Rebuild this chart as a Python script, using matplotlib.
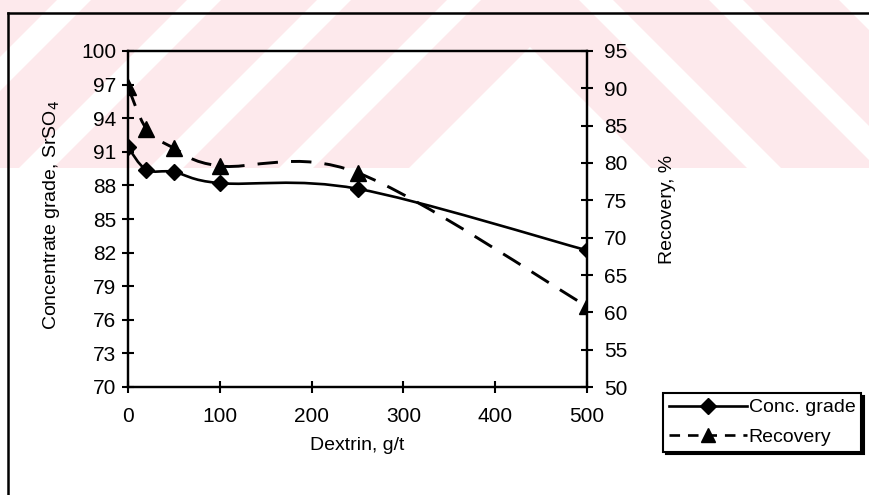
import matplotlib
matplotlib.use("Agg")
import matplotlib.pyplot as plt
from matplotlib.path import Path
from matplotlib.patches import PathPatch, Polygon, Rectangle
from matplotlib.lines import Line2D

# Waarden
dextrin = [0, 20, 50, 100, 250, 500]                   # g/t
grade = [91.4, 89.4, 89.2, 88.2, 87.7, 82.2]            # concentrate grade, SrSO4
recovery = [90.2, 84.6, 82.0, 79.6, 78.7, 60.8]         # recovery, %

grade_ticks = list(range(70, 101, 3))
recovery_ticks = list(range(50, 96, 5))
dextrin_ticks = list(range(0, 501, 100))

W, H = 869, 495
plt.rcParams["font.family"] = ["Liberation Sans", "DejaVu Sans"]
plt.rcParams["font.size"] = 14.5


def fx(px):
    return px / W


def fy(py):
    return 1 - py / H


def smooth_path(xs, ys):
    # Excel-achtige gladde lijn: Bezier met controlepunten op 1/6 van de raaklijn
    n = len(xs)
    verts = [(xs[0], ys[0])]
    codes = [Path.MOVETO]
    for i in range(n - 1):
        x0, y0 = xs[max(i - 1, 0)], ys[max(i - 1, 0)]
        x1, y1 = xs[i], ys[i]
        x2, y2 = xs[i + 1], ys[i + 1]
        x3, y3 = xs[min(i + 2, n - 1)], ys[min(i + 2, n - 1)]
        c1 = (x1 + (x2 - x0) / 6, y1 + (y2 - y0) / 6)
        c2 = (x2 - (x3 - x1) / 6, y2 - (y3 - y1) / 6)
        verts += [c1, c2, (x2, y2)]
        codes += [Path.CURVE4] * 3
    return Path(verts, codes)


fig = plt.figure(figsize=(W / 100, H / 100), dpi=100)
fig.patch.set_facecolor("white")

# roze watermerk bovenin
pink = "#fde9ec"
band_top = 168
fig.patches.append(Rectangle((0, fy(band_top)), 1, band_top / H, transform=fig.transFigure,
                             facecolor=pink, edgecolor="none", zorder=-10))
clip_left = Rectangle((0, fy(band_top)), fx(530), band_top / H, transform=fig.transFigure,
                      facecolor="none", edgecolor="none")
clip_right = Rectangle((fx(530), fy(band_top)), 1 - fx(530), band_top / H,
                       transform=fig.transFigure, facecolor="none", edgecolor="none")
for c in (-73, 57, 187, 317, 447, 577):
    # "/" strepen links
    pts = [(fx(c), fy(0)), (fx(c + 34), fy(0)), (fx(c + 34 - band_top), fy(band_top)),
           (fx(c - band_top), fy(band_top))]
    p = Polygon(pts, closed=True, transform=fig.transFigure, facecolor="white",
                edgecolor="none", zorder=-9)
    p.set_clip_path(clip_left)
    fig.patches.append(p)
    # "\" strepen rechts (gespiegeld rond x=530)
    m = 1060 - c
    pts = [(fx(m - 34), fy(0)), (fx(m), fy(0)), (fx(m + band_top), fy(band_top)),
           (fx(m - 34 + band_top), fy(band_top))]
    p = Polygon(pts, closed=True, transform=fig.transFigure, facecolor="white",
                edgecolor="none", zorder=-9)
    p.set_clip_path(clip_right)
    fig.patches.append(p)
fig.patches.append(Polygon([(fx(530), fy(72)), (fx(626), fy(band_top)), (fx(434), fy(band_top))],
                           closed=True, transform=fig.transFigure, facecolor="white",
                           edgecolor="none", zorder=-9))

# buitenkader (links en boven)
fig.lines.append(Line2D([fx(8), fx(8)], [0, fy(13)], transform=fig.transFigure,
                        color="black", lw=1.8, zorder=5))
fig.lines.append(Line2D([fx(8), 1], [fy(13), fy(13)], transform=fig.transFigure,
                        color="black", lw=1.8, zorder=5))

ax = fig.add_axes((fx(128), fy(387), (587 - 128) / W, (387 - 51) / H))
ax2 = ax.twinx()
ax.patch.set_visible(False)
ax2.patch.set_visible(False)

ax.set_xlim(0, 500)
ax.set_ylim(70, 100)
ax2.set_ylim(50, 95)

ax.add_patch(PathPatch(smooth_path(dextrin, grade), facecolor="none", edgecolor="black",
                       lw=1.9, zorder=3))
ax.plot(dextrin, grade, linestyle="none", marker="D", ms=8.5, color="black", zorder=4)

ax2.add_patch(PathPatch(smooth_path(dextrin, recovery), facecolor="none", edgecolor="black",
                        lw=2.1, linestyle=(0, (7, 4.5)), zorder=3))
ax2.plot(dextrin, recovery, linestyle="none", marker="^", ms=11, color="black", zorder=4)

ax.set_xticks(dextrin_ticks)
ax.set_yticks(grade_ticks)
ax2.set_yticks(recovery_ticks)

for a in (ax, ax2):
    for s in a.spines.values():
        s.set_linewidth(1.6)
ax.tick_params(axis="both", direction="inout", length=9, width=1.5, labelsize=15)
ax.tick_params(axis="y", pad=4)
ax.tick_params(axis="x", pad=10)
ax2.tick_params(axis="y", direction="inout", length=9, width=1.5, labelsize=15, pad=8)

ax.set_xlabel("Dextrin, g/t", fontsize=14, va="center")
ax.xaxis.set_label_coords(0.5, (387 - 446) / 336)
ax.set_ylabel("Concentrate grade, SrSO$_4$", fontsize=14, va="center")
ax.yaxis.set_label_coords((52 - 128) / 459, (387 - 215) / 336)
ax2.set_ylabel("Recovery, %", fontsize=14, va="center", rotation=90)
ax2.yaxis.set_label_coords((668 - 128) / 459, (387 - 209) / 336)

handles = [
    Line2D([], [], color="black", lw=1.9, marker="D", ms=8.5),
    Line2D([], [], color="black", lw=1.9, linestyle=(0, (4, 3)), marker="^", ms=10),
]
leg = fig.legend(handles, ["Conc. grade", "Recovery"], loc="upper left",
                 bbox_to_anchor=(fx(663), fy(393)), frameon=True, fancybox=False,
                 shadow={"color": "black", "alpha": 1}, edgecolor="black",
                 borderpad=0.3, handlelength=4.0, handletextpad=0.1,
                 labelspacing=0.6, borderaxespad=0, fontsize=14)
leg.get_frame().set_linewidth(1.5)
leg.get_frame().set_alpha(None)
leg.get_frame().set_facecolor("white")

fig.savefig("out.png", dpi=100, facecolor="white")
